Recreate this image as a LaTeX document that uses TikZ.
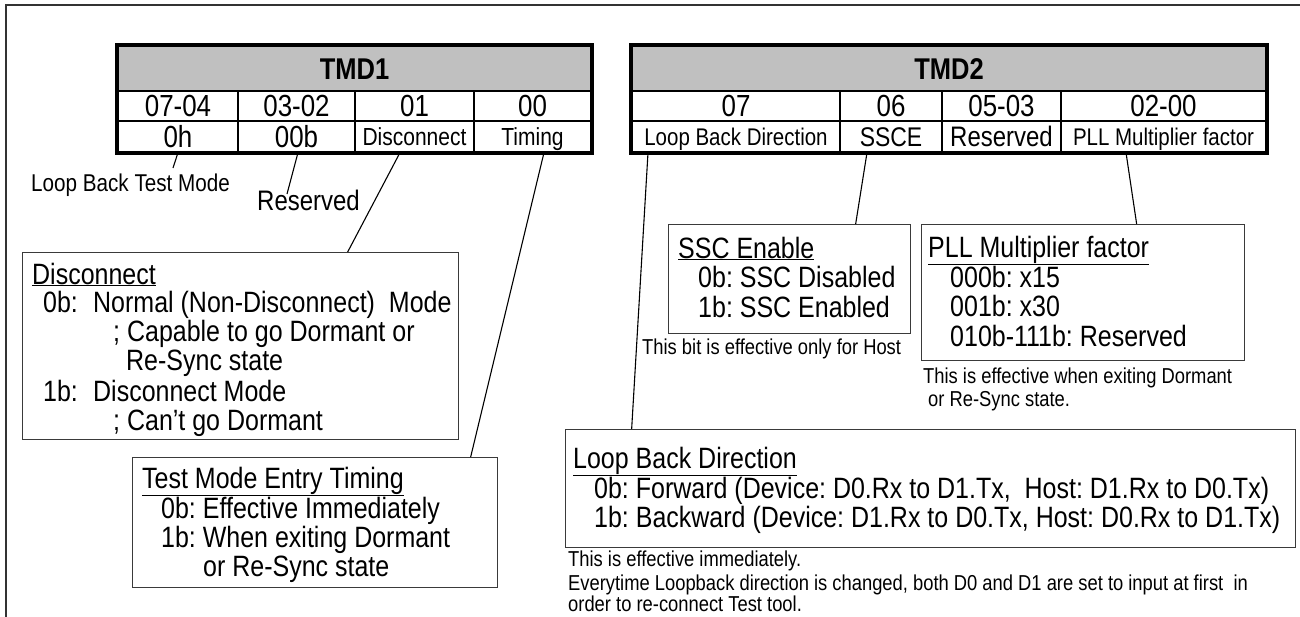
\documentclass[tikz,border=0pt]{standalone}
\usepackage{fontspec}
\setmainfont{Liberation Sans}[FakeStretch=0.85]
\usetikzlibrary{calc}
\definecolor{hdrgray}{HTML}{C0C0C0}
\definecolor{boxgray}{HTML}{3A3A3A}
\definecolor{framegray}{HTML}{333333}
\frenchspacing
\begin{document}
\frenchspacing
\begin{tikzpicture}[x=1pt,y=-1pt,
  frameline/.style={draw=framegray, line width=2pt},
  hdr/.style={draw, fill=hdrgray, line width=1.2pt, inner sep=0pt, minimum height=45pt, text height=21pt, text depth=0pt, font=\bfseries\fontsize{30}{34}\selectfont},
  numcell/.style={draw, line width=1.2pt, inner sep=0pt, minimum height=30pt, text height=21pt, text depth=0pt, font=\fontsize{30.5}{34}\selectfont},
  labcell/.style={draw, line width=1.2pt, inner sep=0pt, minimum height=31pt, text height=17pt, text depth=0pt},
  bigcell/.style={labcell, text height=21pt, font=\fontsize{30.5}{34}\selectfont},
  tblborder/.style={line width=4pt},
  infobox/.style={draw=boxgray, line width=1.3pt, inner sep=0pt, anchor=north west},
  txt/.style={anchor=base west, inner sep=0pt, font=\fontsize{29.4}{34}\selectfont},
  note/.style={anchor=base west, inner sep=0pt, font=\fontsize{21.6}{25}\selectfont},
  conn/.style={line width=1.1pt}]
\useasboundingbox (0,0) rectangle (1300,616);
% outer frame
\draw[frameline] (1301,5) -- (6,5) -- (6,617);

% ---------- TMD1 ----------
\node[hdr, minimum width=473pt] (t1h) at (354.5,68.5) {TMD1};
\node[numcell, minimum width=120pt] (t1a1) at (178,106) {07-04};
\node[numcell, minimum width=117pt] (t1a2) at (296.5,106) {03-02};
\node[numcell, minimum width=119pt] (t1a3) at (414.5,106) {01};
\node[numcell, minimum width=117pt] (t1a4) at (532.5,106) {00};
\node[bigcell, minimum width=120pt] (t1b1) at (178,136.5) {0h};
\node[bigcell, minimum width=117pt] (t1b2) at (296.5,136.5) {00b};
\node[labcell, minimum width=119pt, font=\fontsize{24.7}{28}\selectfont] (t1b3) at (414.5,136.5) {Disconnect};
\node[labcell, minimum width=117pt, font=\fontsize{24.7}{28}\selectfont] (t1b4) at (532.5,136.5) {Timing};
\draw[tblborder] (t1h.north west) rectangle (t1b4.south east);

% ---------- TMD2 ----------
\node[hdr, minimum width=634pt] (t2h) at (949,68.5) {TMD2};
\node[numcell, minimum width=208pt] (t2a1) at (736,106) {07};
\node[numcell, minimum width=102pt] (t2a2) at (891,106) {06};
\node[numcell, minimum width=119pt] (t2a3) at (1001.5,106) {05-03};
\node[numcell, minimum width=205pt] (t2a4) at (1163.5,106) {02-00};
\node[labcell, minimum width=208pt, font=\fontsize{24.1}{28}\selectfont] (t2b1) at (736,136.5) {Loop Back Direction};
\node[labcell, minimum width=102pt, text height=20pt, font=\fontsize{27}{31}\selectfont] (t2b2) at (891,136.5) {SSCE};
\node[labcell, minimum width=119pt, text height=20pt, font=\fontsize{28.2}{32}\selectfont] (t2b3) at (1001.5,136.5) {Reserved};
\node[labcell, minimum width=205pt, font=\fontsize{24.1}{28}\selectfont] (t2b4) at (1163.5,136.5) {PLL Multiplier factor};
\draw[tblborder] (t2h.north west) rectangle (t2b4.south east);

% ---------- small labels ----------
\node[anchor=base west, inner sep=0pt, font=\fontsize{24.3}{28}\selectfont] (lbtm) at (31,191) {Loop Back Test Mode};
\coordinate (lbtmEnd) at (173,168);
\node[anchor=base west, inner sep=0pt, font=\fontsize{28.2}{32}\selectfont] (resv) at (257,210) {Reserved};
\coordinate (resvEnd) at (287,194);

% ---------- Disconnect box ----------
\node[infobox, minimum width=436pt, minimum height=187pt] (disc) at (22,252) {};
\node[txt] (dT) at (32,284) {\underline{Disconnect}};
\node[txt] (d0a) at (43,312) {0b:};
\node[txt] (d0b) at (93,312) {Normal (Non-Disconnect)\ \ Mode};
\node[txt] (d0c) at (113,341) {; Capable to go Dormant or};
\node[txt] (d0d) at (126,370) {Re-Sync state};
\node[txt] (d1a) at (43,401) {1b:};
\node[txt] (d1b) at (93,401) {Disconnect Mode};
\node[txt] (d1c) at (113,430) {; Can’t go Dormant};

% ---------- Test Mode Entry Timing box ----------
\node[infobox, minimum width=365pt, minimum height=130pt] (tme) at (132,457) {};
\node[txt] (tT) at (142,488) {\underline{Test Mode Entry Timing}};
\node[txt] (t0) at (161,518) {0b: Effective Immediately};
\node[txt] (t1) at (161,547) {1b: When exiting Dormant};
\node[txt] (t2) at (203,576) {or Re-Sync state};

% ---------- SSC Enable box ----------
\node[infobox, minimum width=242pt, minimum height=109pt] (ssc) at (668,224) {};
\node[txt] (sT) at (678,258) {\underline{SSC Enable}};
\node[txt] (s0) at (698,287) {0b: SSC Disabled};
\node[txt] (s1) at (698,317) {1b: SSC Enabled};
\node[note] (sN) at (642,354) {This bit is effective only for Host};

% ---------- PLL box ----------
\node[infobox, minimum width=323pt, minimum height=136pt] (pll) at (921,224) {};
\node[txt] (pT) at (928,257) {\underline{PLL Multiplier factor}};
\node[txt] (p0) at (950,287) {000b: x15};
\node[txt] (p1) at (950,316) {001b: x30};
\node[txt] (p2) at (950,346) {010b-111b: Reserved};
\node[note] (pN1) at (923,383) {This is effective when exiting Dormant};
\node[note] (pN2) at (928,406) {or Re-Sync state.};

% ---------- Loop Back Direction box ----------
\node[infobox, minimum width=730pt, minimum height=118pt] (lbd) at (565,429) {};
\node[txt] (lT) at (573,468) {\underline{Loop Back Direction}};
\node[txt] (l0) at (594,498) {0b: Forward (Device: D0.Rx to D1.Tx,\ \ Host: D1.Rx to D0.Tx)};
\node[txt] (l1) at (594,527) {1b: Backward (Device: D1.Rx to D0.Tx, Host: D0.Rx to D1.Tx)};
\node[note] (lN1) at (568,566) {This is effective immediately.};
\node[note] (lN2) at (568,590) {Everytime Loopback direction is changed, both D0 and D1 are set to input at first\ \ in};
\node[note] (lN3) at (568,611) {order to re-connect Test tool.};

% ---------- connectors ----------
\draw[conn] (t1b1.south) -- (lbtmEnd);
\draw[conn] ([xshift=1.5pt]t1b2.south) -- (resvEnd);
\draw[conn] ([xshift=-14.5pt]t1b3.south) -- ([xshift=107pt]disc.north);
\draw[conn] ([xshift=11.5pt]t1b4.south) -- ([xshift=155.5pt]tme.north);
\draw[conn] ([xshift=-88pt]t2b1.south) -- ([xshift=-299pt]lbd.north);
\draw[conn] ([xshift=-24pt]t2b2.south) -- ([xshift=66pt]ssc.north);
\draw[conn] ([xshift=-37.5pt]t2b4.south) -- ([xshift=53.5pt]pll.north);
\end{tikzpicture}
\end{document}
